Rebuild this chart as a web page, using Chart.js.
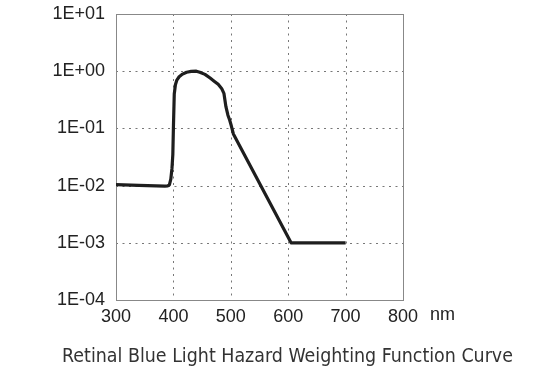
<!DOCTYPE html>
<html>
<head>
<meta charset="utf-8">
<script src="https://cdn.jsdelivr.net/npm/chart.js@4.4.1/dist/chart.umd.min.js"></script>
<style>
  html, body { margin: 0; padding: 0; background: #fff; }
  #wrap { width: 544px; height: 380px; position: relative; }
</style>
</head>
<body>
<div id="wrap"><canvas id="hazardChart"></canvas></div>
<script>
// values
const wavelengths = [300, 340, 370, 385, 390, 393, 395.5, 397.5, 399, 400, 401.5, 403.5, 406, 410, 416, 423, 431, 440, 446, 455, 464, 471, 478, 484, 488, 491.5, 495, 498, 501, 504.5, 605, 700];
const weights = [0.0104, 0.0101, 0.0099, 0.0098, 0.0099, 0.0103, 0.013, 0.02, 0.035, 0.1, 0.4, 0.58, 0.7, 0.8, 0.89, 0.96, 0.99, 1.0, 0.96, 0.88, 0.76, 0.67, 0.59, 0.5, 0.41, 0.24, 0.17, 0.14, 0.11, 0.08, 0.001, 0.001];

const yTickValues = [0.0001, 0.001, 0.01, 0.1, 1, 10];
const yTickLabels = ['1E-04', '1E-03', '1E-02', '1E-01', '1E+00', '1E+01'];
const xTickValues = [300, 400, 500, 600, 700, 800];
const xUnit = 'nm';
const chartTitle = 'Retinal Blue Light Hazard Weighting Function Curve';

const points = wavelengths.map((w, i) => ({ x: w, y: weights[i] }));

// dotted grid + frame + unit + bottom title
const decorPlugin = {
    id: 'decor',
    beforeDatasetsDraw(chart) {
        const ctx = chart.ctx;
        const area = chart.chartArea;
        const xs = chart.scales.x;
        const ys = chart.scales.y;
        ctx.save();
        ctx.strokeStyle = '#777';
        ctx.lineWidth = 1;
        ctx.setLineDash([2, 4.5]);
        xTickValues.forEach(v => {
            if (v === xs.min || v === xs.max) return;
            const px = Math.round(xs.getPixelForValue(v)) + 0.5;
            ctx.beginPath();
            ctx.moveTo(px, area.top);
            ctx.lineTo(px, area.bottom);
            ctx.stroke();
        });
        yTickValues.forEach(v => {
            if (v === ys.min || v === ys.max) return;
            const py = Math.round(ys.getPixelForValue(v)) + 0.5;
            ctx.beginPath();
            ctx.moveTo(area.left, py);
            ctx.lineTo(area.right, py);
            ctx.stroke();
        });
        ctx.setLineDash([]);
        ctx.strokeStyle = '#888';
        ctx.strokeRect(Math.round(area.left) + 0.5, Math.round(area.top) + 0.5,
            Math.round(area.right - area.left), Math.round(area.bottom - area.top));
        ctx.restore();
    },
    afterDraw(chart) {
        const ctx = chart.ctx;
        const xs = chart.scales.x;
        ctx.save();
        ctx.fillStyle = '#222';
        ctx.font = '18px "Liberation Sans", Arial, sans-serif';
        ctx.textBaseline = 'middle';
        ctx.textAlign = 'left';
        ctx.fillText(xUnit, xs.getPixelForValue(800) + 27, 315);

        ctx.fillStyle = '#333';
        let size = 18;
        ctx.font = size + 'px "DejaVu Sans Condensed", "DejaVu Sans", sans-serif';
        const w = ctx.measureText(chartTitle).width;
        size = size * 451 / w;
        ctx.font = size.toFixed(2) + 'px "DejaVu Sans Condensed", "DejaVu Sans", sans-serif';
        ctx.textAlign = 'center';
        ctx.textBaseline = 'alphabetic';
        ctx.fillText(chartTitle, 287.5, 362);
        ctx.restore();
    }
};

const ctx = document.getElementById('hazardChart').getContext('2d');
const hazardChart = new Chart(ctx, {
    type: 'line',
    data: {
        datasets: [{
            data: points,
            borderColor: '#1e1e1e',
            borderWidth: 3.2,
            borderJoinStyle: 'round',
            pointRadius: 0,
            tension: 0,
            fill: false
        }]
    },
    options: {
        responsive: true,
        maintainAspectRatio: false,
        animation: false,
        layout: {
            padding: { top: 14, right: 141, bottom: 0, left: 0 }
        },
        scales: {
            x: {
                type: 'linear',
                min: 300,
                max: 800,
                afterBuildTicks: scale => {
                    scale.ticks = xTickValues.map(v => ({ value: v }));
                },
                afterFit: scale => {
                    scale.height = 80;
                    scale.paddingLeft = 0;
                    scale.paddingRight = 0;
                },
                grid: { display: false, drawTicks: false },
                border: { display: false },
                ticks: {
                    color: '#222',
                    padding: 6,
                    maxRotation: 0,
                    autoSkip: false,
                    font: { family: '"Liberation Sans", Arial, sans-serif', size: 18 }
                }
            },
            y: {
                type: 'logarithmic',
                min: 0.0001,
                max: 10,
                afterBuildTicks: scale => {
                    scale.ticks = yTickValues.map(v => ({ value: v, major: true }));
                },
                afterFit: scale => {
                    scale.width = 116;
                    scale.paddingTop = 0;
                    scale.paddingBottom = 0;
                },
                grid: { display: false, drawTicks: false },
                border: { display: false },
                ticks: {
                    color: '#222',
                    padding: 11,
                    autoSkip: false,
                    font: { family: '"Liberation Sans", Arial, sans-serif', size: 18 },
                    callback: function(value) {
                        const i = yTickValues.findIndex(v => Math.abs(v - value) / v < 1e-6);
                        return i >= 0 ? yTickLabels[i] : '';
                    }
                }
            }
        },
        plugins: {
            legend: { display: false },
            tooltip: { enabled: false }
        }
    },
    plugins: [decorPlugin]
});
</script>
</body>
</html>
